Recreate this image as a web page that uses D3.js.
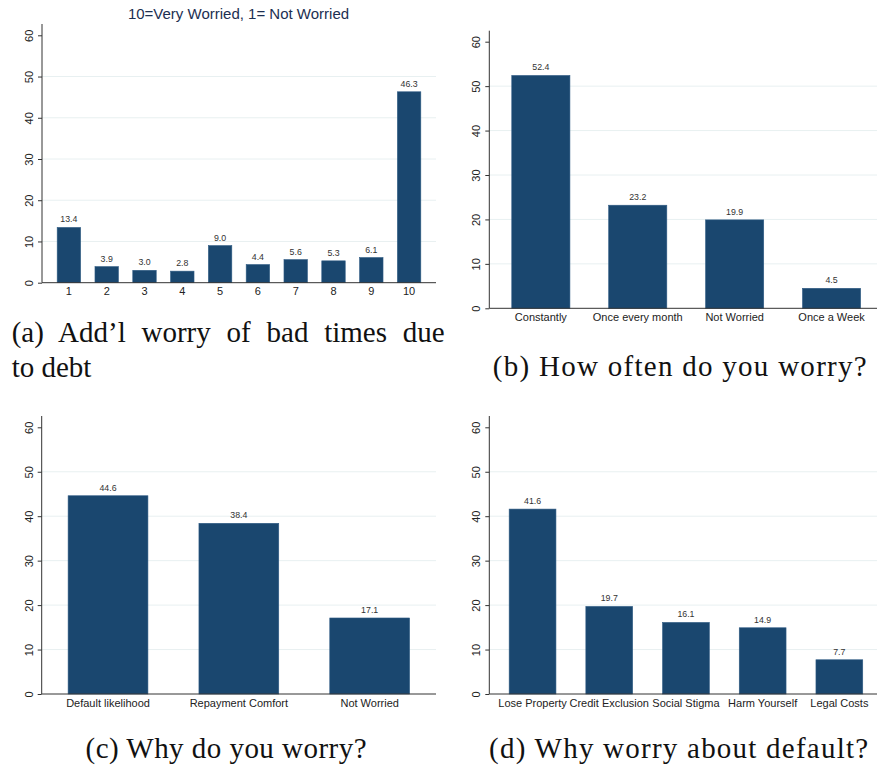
<!DOCTYPE html>
<html>
<head>
<meta charset="utf-8">
<script src="https://cdn.jsdelivr.net/npm/d3@7"></script>
<style>
  body { margin: 0; background: #fff; }
  svg { display: block; }
  .tick text { font-family: "Liberation Sans", Arial, sans-serif; fill: #222; }
  .caption { font-family: "Liberation Serif", "Times New Roman", serif; fill: #111; }
</style>
</head>
<body>
<script>
var width = 877,
    height = 772;

// panel (a): 1..10 scale
var scaleLabels = ["1", "2", "3", "4", "5", "6", "7", "8", "9", "10"];
var scaleShare = [13.4, 3.9, 3.0, 2.8, 9.0, 4.4, 5.6, 5.3, 6.1, 46.3];

// panel (b): how often
var oftenLabels = ["Constantly", "Once every month", "Not Worried", "Once a Week"];
var oftenShare = [52.4, 23.2, 19.9, 4.5];

// panel (c): why worry
var whyLabels = ["Default likelihood", "Repayment Comfort", "Not Worried"];
var whyShare = [44.6, 38.4, 17.1];

// panel (d): why worry about default
var defaultLabels = ["Lose Property", "Credit Exclusion", "Social Stigma", "Harm Yourself", "Legal Costs"];
var defaultShare = [41.6, 19.7, 16.1, 14.9, 7.7];

var yTicks = [0, 10, 20, 30, 40, 50, 60];
var gridTicks = [10, 20, 30, 40, 50];

var barColor = "#1a476f";

var svg = d3.select("body").append("svg")
    .attr("width", width)
    .attr("height", height);

// layout of each panel (pixels)
var panels = [
  { labels: scaleLabels, values: scaleShare, left: 42, right: 436, top: 24, y0: 282.7, y60: 35.3, band: [50, 428], pad: 0.38, title: "10=Very Worried, 1= Not Worried" },
  { labels: oftenLabels, values: oftenShare, left: 489.3, right: 877, top: 30.7, y0: 308.3, y60: 41.7, band: [492.4, 880], pad: 0.4 },
  { labels: whyLabels, values: whyShare, left: 41.7, right: 436, top: 416, y0: 694, y60: 427.3, band: [42.6, 435.1], pad: 0.39 },
  { labels: defaultLabels, values: defaultShare, left: 489.3, right: 877, top: 416, y0: 694, y60: 427.3, band: [494.2, 877.7], pad: 0.39 }
];

panels.forEach(function(p) {
  var g = svg.append("g");

  var x = d3.scaleBand()
      .domain(p.labels)
      .range(p.band)
      .paddingInner(p.pad)
      .paddingOuter(p.pad / 2);

  var y = d3.scaleLinear()
      .domain([0, 60])
      .range([p.y0, p.y60]);

  // light gridlines
  g.selectAll("line.grid")
    .data(gridTicks)
    .enter().append("line")
      .attr("class", "grid")
      .attr("x1", p.left)
      .attr("x2", p.right)
      .attr("y1", function(d) { return y(d); })
      .attr("y2", function(d) { return y(d); })
      .attr("stroke", "#e8f0f1")
      .attr("stroke-width", 1);

  // bars
  g.selectAll("rect.bar")
    .data(p.values)
    .enter().append("rect")
      .attr("class", "bar")
      .attr("x", function(d, i) { return x(p.labels[i]); })
      .attr("width", x.bandwidth())
      .attr("y", function(d) { return y(d); })
      .attr("height", function(d) { return y(0) - y(d); })
      .attr("fill", barColor)
      .attr("stroke", "#2f5b84")
      .attr("stroke-width", 0.6);

  // value labels
  g.selectAll("text.val")
    .data(p.values)
    .enter().append("text")
      .attr("class", "val")
      .attr("x", function(d, i) { return x(p.labels[i]) + x.bandwidth() / 2; })
      .attr("y", function(d) { return y(d) - 5; })
      .attr("text-anchor", "middle")
      .attr("font-family", "Liberation Sans, Arial, sans-serif")
      .attr("font-size", 8.8)
      .attr("fill", "#333")
      .text(function(d) { return d.toFixed(1); });

  // y axis with rotated labels
  var yAxis = g.append("g")
      .attr("transform", "translate(" + p.left + ",0)")
      .call(d3.axisLeft(y).tickValues(yTicks).tickSize(4).tickSizeOuter(0));
  yAxis.select(".domain").remove();
  yAxis.selectAll(".tick line").attr("stroke", "#333");
  yAxis.selectAll(".tick text")
      .attr("transform", "rotate(-90)")
      .attr("x", 0)
      .attr("y", -9)
      .attr("dy", 0)
      .attr("text-anchor", "middle")
      .attr("font-size", 11);

  // y axis line runs a little above the top tick
  g.append("line")
      .attr("x1", p.left).attr("x2", p.left)
      .attr("y1", p.top).attr("y2", y(0))
      .attr("stroke", "#333")
      .attr("stroke-width", 1);

  // x axis
  var xAxis = g.append("g")
      .attr("transform", "translate(0," + y(0) + ")")
      .call(d3.axisBottom(x).tickSize(0));
  xAxis.select(".domain").remove();
  xAxis.selectAll(".tick text")
      .attr("y", 12.5)
      .attr("dy", 0)
      .attr("font-size", 11);

  g.append("line")
      .attr("x1", p.left).attr("x2", p.right)
      .attr("y1", y(0)).attr("y2", y(0))
      .attr("stroke", "#333")
      .attr("stroke-width", 1);

  if (p.title) {
    g.append("text")
        .attr("x", 238.5)
        .attr("y", 18.5)
        .attr("text-anchor", "middle")
        .attr("font-family", "Liberation Sans, Arial, sans-serif")
        .attr("font-size", 15)
        .attr("fill", "#1c2f52")
        .text(p.title);
  }
});

// sub-figure captions; "justify" spreads words, "len" stretches slightly
var captions = [
  { text: "(a) Add\u2019l worry of bad times due", x: 11.7, y: 341.7, anchor: "start", justify: 433 },
  { text: "to debt", x: 11.7, y: 376.7, anchor: "start" },
  { text: "(b) How often do you worry?", x: 679.7, y: 376, anchor: "middle", len: 374 },
  { text: "(c) Why do you worry?", x: 226, y: 758, anchor: "middle", len: 281 },
  { text: "(d) Why worry about default?", x: 678.6, y: 758, anchor: "middle", len: 379 }
];

captions.forEach(function(c) {
  var t = svg.append("text")
      .attr("class", "caption")
      .attr("x", c.x)
      .attr("y", c.y)
      .attr("text-anchor", c.anchor)
      .attr("font-size", 29)
      .text(c.text);
  if (c.len) t.attr("textLength", c.len).attr("lengthAdjust", "spacing");
  if (c.justify) {
    var natural = t.node().getComputedTextLength(),
        gaps = c.text.split(" ").length - 1;
    t.attr("word-spacing", Math.max(0, (c.justify - natural) / gaps));
  }
});
</script>
</body>
</html>
